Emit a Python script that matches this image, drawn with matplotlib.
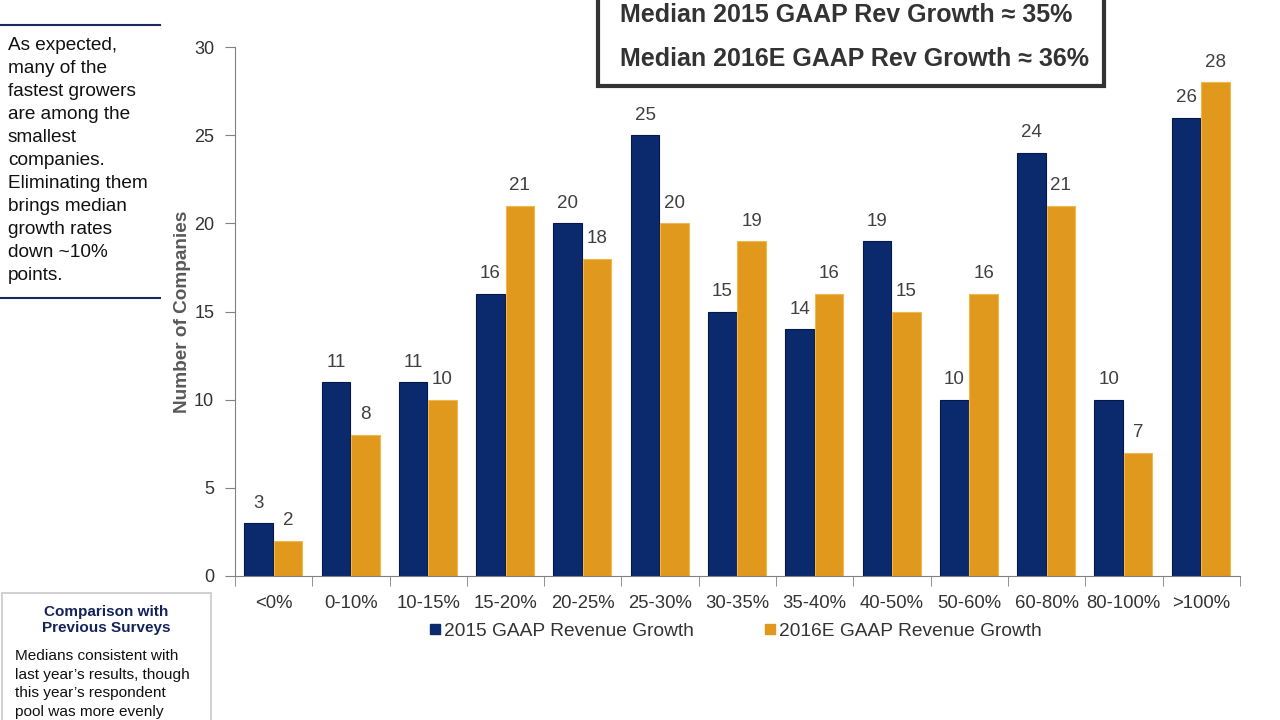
import numpy as np
import matplotlib.pyplot as plt
from matplotlib.patches import Rectangle
from matplotlib.lines import Line2D

plt.rcParams['font.family'] = ['Liberation Sans', 'DejaVu Sans']

categories = ["<0%", "0-10%", "10-15%", "15-20%", "20-25%", "25-30%", "30-35%",
              "35-40%", "40-50%", "50-60%", "60-80%", "80-100%", ">100%"]
growth_2015 = [3, 11, 11, 16, 20, 25, 15, 14, 19, 10, 24, 10, 26]
growth_2016e = [2, 8, 10, 21, 18, 20, 19, 16, 15, 16, 21, 7, 28]
series_names = ["2015 GAAP Revenue Growth", "2016E GAAP Revenue Growth"]

navy = "#0b2a6e"
orange = "#e0991c"
grey = "#404040"

fig = plt.figure(figsize=(12.8, 7.2), dpi=100)
ax = fig.add_axes([0.1836, 0.2, 0.785, 0.7347])

x = np.arange(len(categories))
w = 0.37
b1 = ax.bar(x - 0.195, growth_2015, w, color=navy, edgecolor="#06174a", linewidth=0.8)
b2 = ax.bar(x + 0.185, growth_2016e, w, color=orange, edgecolor="#f0b850", linewidth=0.8)
for bars in (b1, b2):
    for r in bars:
        ax.text(r.get_x() + r.get_width() / 2, r.get_height() + 0.65, str(int(r.get_height())),
                ha="center", va="bottom", fontsize=13.5, color=grey)

ax.set_xlim(-0.5, len(categories) - 0.5)
ax.set_ylim(0, 30)
ax.set_yticks(range(0, 31, 5))
ax.set_xticks(x)
ax.set_xticklabels(categories)
ax.set_xticks(np.arange(-0.5, len(categories)), minor=True)
ax.tick_params(axis="x", which="major", length=0, pad=14, labelsize=13.3, labelcolor="#333333")
ax.tick_params(axis="x", which="minor", length=7, color="#808080", direction="out")
ax.tick_params(axis="y", length=7, color="#808080", labelsize=13, labelcolor="#333333", pad=8)
for s in ("top", "right"):
    ax.spines[s].set_visible(False)
for s in ("left", "bottom"):
    ax.spines[s].set_color("#808080")
ax.set_ylabel("Number of Companies", fontsize=13.7, fontweight="bold", color="#595959", labelpad=2)

handles = [Line2D([], [], marker="s", linestyle="", markersize=7, color=navy),
           Line2D([], [], marker="s", linestyle="", markersize=7, color=orange)]
fig.legend(handles, series_names, loc="center", bbox_to_anchor=(0.5734, 0.123), ncol=2,
           frameon=False, fontsize=13.8, handletextpad=0.05, columnspacing=3.5,
           labelcolor="#333333", handlelength=0.9)

# top median box
fig.patches.append(Rectangle((598 / 1280, 1 - 86 / 720), 506 / 1280, 0.2, transform=fig.transFigure,
                             facecolor="white", edgecolor="#333333", linewidth=3, zorder=0))
fig.text(620 / 1280, 1 - 15 / 720, "Median 2015 GAAP Rev Growth \u2248 35%", fontsize=18,
         fontweight="bold", color="#333333", ha="left", va="center")
fig.text(620 / 1280, 1 - 59 / 720, "Median 2016E GAAP Rev Growth \u2248 36%", fontsize=18,
         fontweight="bold", color="#333333", ha="left", va="center")

# left note
fig.add_artist(Line2D([0, 160 / 1280], [1 - 25 / 720] * 2, color="#1a2a5e", linewidth=1.5))
fig.add_artist(Line2D([0, 160 / 1280], [1 - 298 / 720] * 2, color="#1a2a5e", linewidth=1.5))
note = ("As expected,\nmany of the\nfastest growers\nare among the\nsmallest\ncompanies.\n"
        "Eliminating them\nbrings median\ngrowth rates\ndown ~10%\npoints.")
fig.text(8 / 1280, 1 - 37 / 720, note, fontsize=13.7, color="#111111", ha="left", va="top",
         linespacing=1.46)

# bottom-left box
fig.patches.append(Rectangle((2 / 1280, 1 - 730 / 720), 209 / 1280, 137 / 720, transform=fig.transFigure,
                             facecolor="white", edgecolor="#c8c8c8", linewidth=1.2))
fig.text(106 / 1280, 1 - 620 / 720, "Comparison with\nPrevious Surveys", fontsize=11,
         fontweight="bold", color="#14235a", ha="center", va="center", linespacing=1.25)
fig.text(15 / 1280, 1 - 649 / 720,
         "Medians consistent with\nlast year\u2019s results, though\nthis year\u2019s respondent\npool was more evenly",
         fontsize=11.1, color="#111111", ha="left", va="top", linespacing=1.42)

fig.savefig("out.png", dpi=100)
